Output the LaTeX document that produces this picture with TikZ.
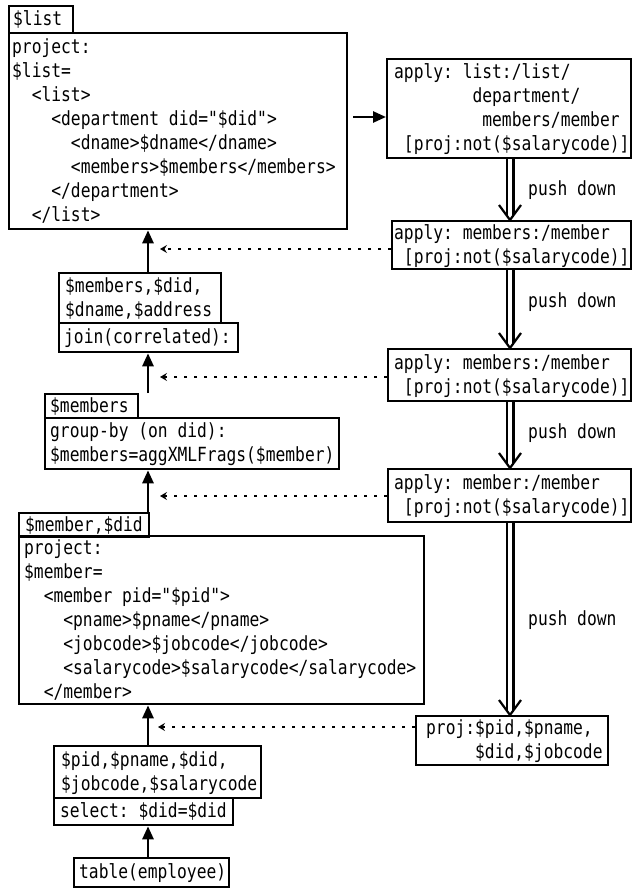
\documentclass[tikz,border=0pt]{standalone}
\usepackage{fontspec}
\usetikzlibrary{arrows.meta,calc}
\newfontfamily\monoface[FakeStretch=0.835]{DejaVu Sans Mono}
\newcommand\codefont{\monoface\fontsize{19.5pt}{24pt}\selectfont}
\newlength\chw
\AtBeginDocument{\settowidth{\chw}{\codefont x}}
\newcommand\gapn[1]{\hspace*{#1\chw}}
\newcommand\wsp{\hspace*{\chw}}
\newcommand\linestrut{\rule[-6pt]{0pt}{24pt}}
\hfuzz=200pt
\hbadness=10000
\tikzset{
  opbox/.style={draw, line width=2.3pt, font=\codefont, align=left,
    anchor=north west, inner ysep=0pt,
    execute at begin node=\linestrut, execute at end node=\linestrut},
  flow/.style={line width=2.6pt, -{Triangle[length=13pt,width=11pt]}},
  feed/.style={line width=2.6pt, dash pattern=on 2.6pt off 7.4pt,
    -{Stealth[length=7pt,width=8pt,inset=2.5pt]}},
  push/.style={line width=2.2pt, double distance=4.6pt, shorten >=5pt},
  pushhead/.style={line width=2.2pt, miter limit=4},
  pushlabel/.style={font=\codefont, anchor=west, inner sep=0pt}
}
\begin{document}
\begin{tikzpicture}[x=1pt,y=-1pt]
\useasboundingbox (0,0) rectangle (633,888);

% query plan, left column
\node[opbox, minimum height=27pt, text width=56pt, inner xsep=4pt] (Alab) at (8,5) {\$list};
\node[opbox, minimum height=196pt, text width=332pt, inner xsep=3pt] (A) at (8,32)
  {project:\\
   \$list=\\
   \gapn{2}<list>\\
   \gapn{4}<department\wsp did="\$did">\\
   \gapn{6}<dname>\$dname</dname>\\
   \gapn{6}<members>\$members</members>\\
   \gapn{4}</department>\\
   \gapn{2}</list>};

\node[opbox, minimum height=50pt, text width=150pt, inner xsep=6pt] (B) at (58,272)
  {\$members,\$did,\\ \$dname,\$address};
\node[opbox, minimum height=29pt, text width=169pt, inner xsep=5pt] (Bj) at (58,322)
  {join(correlated):};

\node[opbox, minimum height=24pt, text width=83pt, inner xsep=5pt] (Clab) at (44,393) {\$members};
\node[opbox, minimum height=51pt, text width=284pt, inner xsep=5pt] (C) at (44,417)
  {group-by\wsp(on\wsp did):\\ \$members=aggXMLFrags(\$member)};

\node[opbox, minimum height=23pt, text width=118pt, inner xsep=6pt] (Dlab) at (18,512) {\$member,\$did};
\node[opbox, minimum height=168pt, text width=395pt, inner xsep=5pt] (D) at (18,535)
  {project:\\
   \$member=\\
   \gapn{2}<member\wsp pid="\$pid">\\
   \gapn{4}<pname>\$pname</pname>\\
   \gapn{4}<jobcode>\$jobcode</jobcode>\\
   \gapn{4}<salarycode>\$salarycode</salarycode>\\
   \gapn{2}</member>};

\node[opbox, minimum height=52pt, text width=193pt, inner xsep=7pt] (E) at (53,745)
  {\$pid,\$pname,\$did,\\ \$jobcode,\$salarycode};
\node[opbox, minimum height=27pt, text width=167pt, inner xsep=6pt] (Es) at (53,797)
  {select:\wsp\$did=\$did};

\node[opbox, minimum height=29pt, text width=145pt, inner xsep=5pt] (F) at (73,857) {table(employee)};

% rewrite steps, right column
\node[opbox, minimum height=99pt, text width=230pt, inner xsep=7pt] (ap1) at (386,58)
  {apply:\wsp list:/list/\\
   \gapn{8}department/\\
   \gapn{9}members/member\\
   \gapn{1}[proj:not(\$salarycode)]};
\node[opbox, minimum height=46pt, text width=235pt, inner xsep=2pt] (ap2) at (391,220)
  {apply:\wsp members:/member\\ \gapn{1}[proj:not(\$salarycode)]};
\node[opbox, minimum height=52pt, text width=231pt, inner xsep=6pt] (ap3) at (387,348)
  {apply:\wsp members:/member\\ \gapn{1}[proj:not(\$salarycode)]};
\node[opbox, minimum height=53pt, text width=231pt, inner xsep=6pt] (ap4) at (387,468)
  {apply:\wsp member:/member\\ \gapn{1}[proj:not(\$salarycode)]};
\node[opbox, minimum height=49pt, text width=172pt, inner xsep=10pt] (pj) at (415,715)
  {proj:\$pid,\$pname,\\ \gapn{5}\$did,\$jobcode};

\node[pushlabel] (pd1) at (528,190) {push\wsp down};
\node[pushlabel] (pd2) at (528,302) {push\wsp down};
\node[pushlabel] (pd3) at (528,433) {push\wsp down};
\node[pushlabel] (pd4) at (528,620) {push\wsp down};

% guide coordinates
\coordinate (ax) at (148,0);
\coordinate (dx) at (510,0);
\coordinate (h1) at (0,117);
\coordinate (f1) at (160,249);
\coordinate (f2) at (160,377);
\coordinate (f3) at (160,496);
\coordinate (f4) at (158,727);

% data flow upwards
\draw[flow] (B.north -| ax) -- (A.south -| ax);
\draw[flow] (Clab.north -| ax) -- (Bj.south -| ax);
\draw[flow] (Dlab.north -| ax) -- (C.south -| ax);
\draw[flow] (E.north -| ax) -- (D.south -| ax);
\draw[flow] (F.north -| ax) -- (Es.south -| ax);

% the rewrite applied to the top operator
\draw[flow, shorten <=5pt] (A.east |- h1) -- (ap1.west |- h1);

% push-down steps: double shaft with an open head
\foreach \from/\to in {ap1/ap2, ap2/ap3, ap3/ap4, ap4/pj} {
  \draw[push] (\from.south -| dx) -- (\to.north -| dx);
  \draw[pushhead] ($(\to.north -| dx)+(-11,-15)$) -- (\to.north -| dx)
    -- ($(\to.north -| dx)+(11,-15)$);
}

% where each step lands in the plan
\draw[feed] (ap2.west |- f1) -- (f1);
\draw[feed] (ap3.west |- f2) -- (f2);
\draw[feed] (ap4.west |- f3) -- (f3);
\draw[feed] (pj.west |- f4) -- (f4);
\end{tikzpicture}
\end{document}
